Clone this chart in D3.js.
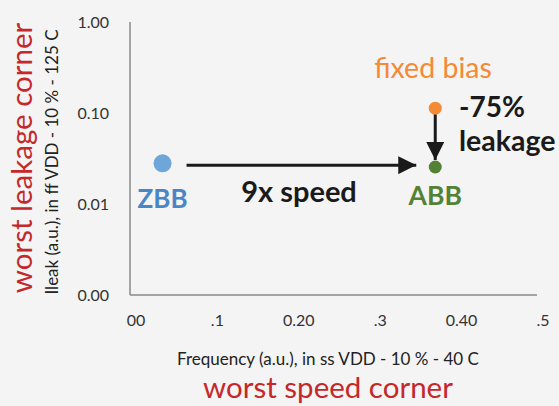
<!DOCTYPE html>
<html lang="en">
<head>
<meta charset="UTF-8">
<title>ABB leakage vs speed</title>
<style>
  body { margin: 0; background: #f4f4f4; }
  svg { display: block; background: #f4f4f4; font-family: Lato, "Liberation Sans", sans-serif; }
  .tick-label { font-size: 16px; fill: #333; }
</style>
</head>
<body>
<svg width="559" height="406"></svg>
<script src="https://d3js.org/d3.v7.min.js"></script>
<script>
// axis ticks
const xTicks = [0, 0.1, 0.2, 0.3, 0.4, 0.5];
const xTickLabels = ["00", ".1", "0.20", ".3", "0.40", ".5"];
const yTicks = [0.001, 0.01, 0.1, 1];
const yTickLabels = ["0.00", "0.01", "0.10", "1.00"];

// points
const pointNames = ["ZBB", "fixed bias", "ABB"];
const freq = [0.04, 0.375, 0.375];
const leak = [0.028, 0.113, 0.0255];
const pointColors = ["#6fa6da", "#f58a35", "#548235"];
const pointRadius = [9, 6.5, 6.5];

const svg = d3.select("svg");

const x = d3.scaleLinear().domain([0, 0.5]).range([130, 537]);
const y = d3.scaleLog().domain([0.001, 1]).range([295, 22]);

// axis lines
svg.append("line").attr("x1", x(0)).attr("x2", x(0.5))
  .attr("y1", y(0.001)).attr("y2", y(0.001))
  .attr("stroke", "#8a8a8a").attr("stroke-width", 1.5);
svg.append("line").attr("x1", x(0)).attr("x2", x(0))
  .attr("y1", y(0.001)).attr("y2", y(1))
  .attr("stroke", "#8a8a8a").attr("stroke-width", 1.5);

svg.selectAll(".xt").data(xTicks).enter().append("text")
  .attr("class", "tick-label")
  .attr("x", d => x(d) + 6)
  .attr("y", 326)
  .attr("text-anchor", "middle")
  .text((d, i) => xTickLabels[i]);

svg.selectAll(".yt").data(yTicks).enter().append("text")
  .attr("class", "tick-label")
  .attr("x", 109)
  .attr("y", d => y(d) + 6)
  .attr("text-anchor", "end")
  .text((d, i) => yTickLabels[i]);

// axis titles
svg.append("text").attr("x", 328).attr("y", 365)
  .attr("text-anchor", "middle").attr("font-size", 17).attr("fill", "#222")
  .text("Frequency (a.u.), in ss VDD - 10 % - 40 C");
svg.append("text").attr("x", 328).attr("y", 398)
  .attr("text-anchor", "middle").attr("font-size", 29.5).attr("fill", "#c5282b")
  .text("worst speed corner");
svg.append("text").attr("transform", "translate(58,162) rotate(-90)")
  .attr("text-anchor", "middle").attr("font-size", 17).attr("fill", "#222")
  .text("Ileak (a.u.), in ff VDD - 10 % - 125 C");
svg.append("text").attr("transform", "translate(32,158) rotate(-90)")
  .attr("text-anchor", "middle").attr("font-size", 29.5).attr("fill", "#c5282b")
  .text("worst leakage corner");

// arrows
const defs = svg.append("defs");
defs.append("marker").attr("id", "head")
  .attr("viewBox", "0 0 10 10").attr("refX", 10).attr("refY", 5)
  .attr("markerWidth", 6).attr("markerHeight", 6).attr("orient", "auto")
  .attr("markerUnits", "strokeWidth")
  .append("path").attr("d", "M0,0 L10,5 L0,10 Z").attr("fill", "#1a1a1a");

const ay = (y(leak[0]) + y(leak[2])) / 2;
svg.append("line")
  .attr("x1", x(freq[0]) + 24).attr("x2", x(freq[2]) - 19)
  .attr("y1", ay).attr("y2", ay)
  .attr("stroke", "#1a1a1a").attr("stroke-width", 3).attr("marker-end", "url(#head)");
svg.append("line")
  .attr("x1", x(freq[1])).attr("x2", x(freq[2]))
  .attr("y1", y(leak[1]) + 5).attr("y2", y(leak[2]) - 7)
  .attr("stroke", "#1a1a1a").attr("stroke-width", 3).attr("marker-end", "url(#head)");

svg.selectAll(".pt").data(pointNames).enter().append("circle")
  .attr("cx", (d, i) => x(freq[i]))
  .attr("cy", (d, i) => y(leak[i]))
  .attr("r", (d, i) => pointRadius[i])
  .attr("fill", (d, i) => pointColors[i]);

// labels
svg.append("text").attr("x", x(freq[0])).attr("y", 208)
  .attr("text-anchor", "middle").attr("font-size", 26).attr("font-weight", "bold")
  .attr("fill", "#4a86c5").text(pointNames[0]);
svg.append("text").attr("x", x(freq[2])).attr("y", 205)
  .attr("text-anchor", "middle").attr("font-size", 26.5).attr("font-weight", "bold")
  .attr("fill", "#548235").text(pointNames[2]);
svg.append("text").attr("x", 433).attr("y", 78)
  .attr("text-anchor", "middle").attr("font-size", 28.5)
  .attr("fill", "#f58a35").text(pointNames[1]);
svg.append("text").attr("x", 299).attr("y", 202)
  .attr("text-anchor", "middle").attr("font-size", 29).attr("font-weight", "bold")
  .attr("fill", "#1a1a1a").text("9x speed");
svg.append("text").attr("x", 459).attr("y", 117)
  .attr("font-size", 28).attr("font-weight", "bold")
  .attr("fill", "#1a1a1a").text("-75%");
svg.append("text").attr("x", 459).attr("y", 151)
  .attr("font-size", 28.5).attr("font-weight", "bold")
  .attr("fill", "#1a1a1a").text("leakage");
</script>
</body>
</html>
